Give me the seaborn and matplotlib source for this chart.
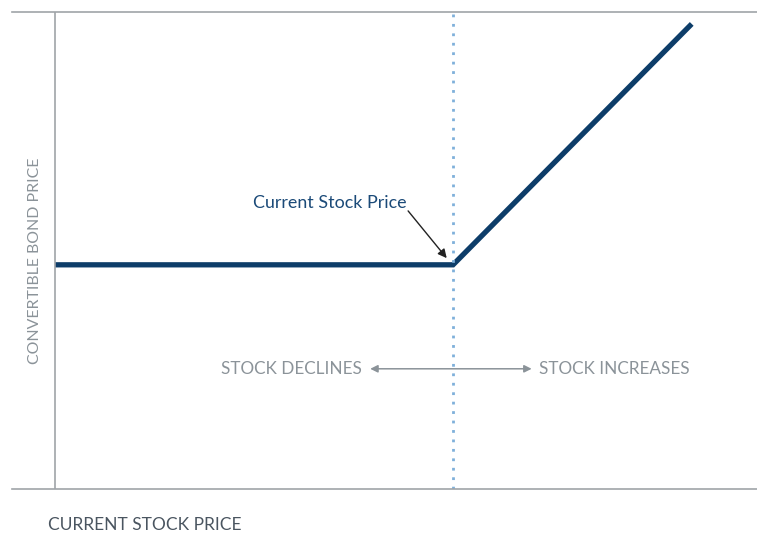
"""
Convertible bond price vs. current stock price payoff sketch
"""

import numpy as np
import matplotlib.pyplot as plt
import seaborn as sns
import pandas as pd

# payoff profile (arbitrary units, 0-100 on both axes)
stock_price = [0, 56.7, 90.7]
bond_price = [47, 47, 97.5]
current_price = 56.7

labels = {
    'x': 'CURRENT STOCK PRICE',
    'y': 'CONVERTIBLE BOND PRICE',
    'current': 'Current Stock Price',
    'down': 'STOCK DECLINES',
    'up': 'STOCK INCREASES',
}

NAVY = '#0d3d69'
GREY_TXT = '#8b9399'
GREY_LINE = '#a0a4a8'
DOT = '#7fb0da'

sns.set_style('white')
plt.rcParams['font.family'] = ['Lato', 'DejaVu Sans']

fig = plt.figure(figsize=(7.57, 5.35), dpi=100)
# axes spans from the outer rules (x 12px .. 757px, y 12px .. 489px)
ax = fig.add_axes([12 / 757, 46 / 535, 745 / 757, 477 / 535])

df = pd.DataFrame({'stock': stock_price, 'bond': bond_price})
sns.lineplot(data=df, x='stock', y='bond', ax=ax, color=NAVY, lw=3.8,
             solid_joinstyle='miter', solid_capstyle='butt', sort=False)

ax.set_xlim(-43 / 7.02, 100)
ax.set_ylim(0, 100)

# vertical axis rule and the current-price marker
ax.axvline(0, color=GREY_LINE, lw=1.2)
ax.axvline(current_price, color=DOT, lw=2, ls=(0, (1, 2.4)))

for side in ['left', 'right']:
    ax.spines[side].set_visible(False)
for side in ['top', 'bottom']:
    ax.spines[side].set_color(GREY_LINE)
    ax.spines[side].set_linewidth(1.2)
ax.set_xticks([])
ax.set_yticks([])
ax.set_xlabel('')
ax.set_ylabel('')

# annotation with arrow toward kink
ax.text(50.1, 60.0, labels['current'], ha='right', va='center',
        fontsize=12.9, color='#1b4a78')
ax.annotate('', xy=(55.8, 48.4), xytext=(50.3, 58.3),
            arrowprops=dict(arrowstyle='-|>', color='#222222', lw=1,
                            mutation_scale=13, shrinkA=0, shrinkB=0))

# decline / increase arrow
ax.annotate('', xy=(44.9, 25.2), xytext=(67.9, 25.2),
            arrowprops=dict(arrowstyle='<|-|>', color=GREY_TXT, lw=1.1,
                            mutation_scale=11, shrinkA=0, shrinkB=0))
ax.text(43.7, 25.2, labels['down'], ha='right', va='center',
        fontsize=12.3, color=GREY_TXT)
ax.text(68.9, 25.2, labels['up'], ha='left', va='center',
        fontsize=12.3, color=GREY_TXT)

fig.text(48 / 757, 1 - 525 / 535, labels['x'], ha='left', va='center',
         fontsize=12.5, color='#4a5560')
fig.text(35 / 757, 1 - 261 / 535, labels['y'], ha='center', va='center',
         rotation=90, fontsize=11.4, color=GREY_TXT)

fig.savefig('out.png', dpi=100)
